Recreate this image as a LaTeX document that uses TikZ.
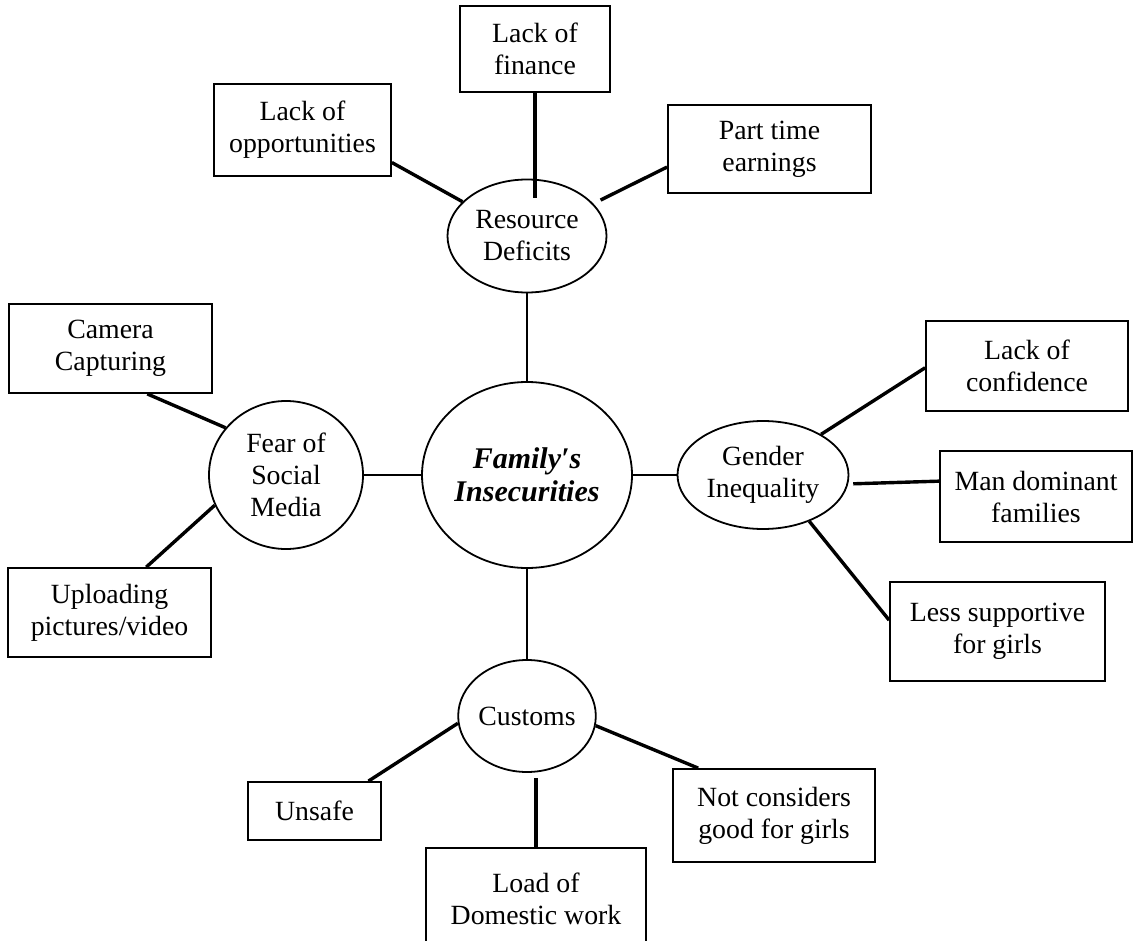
\documentclass[tikz,border=0pt]{standalone}
\usepackage{fontspec}
\setmainfont{Liberation Serif}
\usetikzlibrary{shapes.geometric}

\begin{document}
\begin{tikzpicture}[x=1pt,y=-1pt,
    box/.style={draw, line width=1.8pt, rectangle, align=center, inner sep=0pt, font=\fontsize{27.8}{32}\selectfont},
    oval/.style={draw, line width=1.8pt, ellipse, align=center, inner sep=0pt, font=\fontsize{27.8}{32}\selectfont},
    link/.style={line width=3.4pt},
    hub/.style={line width=1.8pt}]
        \useasboundingbox (0,0) rectangle (1134,941);

        % centre and the four groups
        \node[oval, minimum width=210pt, minimum height=186pt, font=\fontsize{30}{33}\selectfont\bfseries\itshape] (fam) at (527,475) {Family′s\\Insecurities};
        \node[oval, minimum width=159pt, minimum height=113pt] (res) at (527,236) {Resource\\Deficits};
        \node[oval, minimum width=154pt, minimum height=148pt] (fear) at (286,475) {Fear of\\Social\\Media};
        \node[oval, minimum width=171pt, minimum height=108pt] (gen) at (763,475) {Gender\\Inequality};
        \node[oval, minimum width=137pt, minimum height=112pt] (cus) at (527,716) {Customs};

        % boxes
        \node[box, minimum width=177pt, minimum height=92pt] (opp) at (302.5,130) {Lack of\\opportunities};
        \node[box, minimum width=150pt, minimum height=86pt] (fin) at (535,49) {Lack of\\finance};
        \node[box, minimum width=203pt, minimum height=88pt] (part) at (769.5,149) {Part time\\earnings};
        \node[box, minimum width=203pt, minimum height=89pt] (cam) at (110.5,348.5) {Camera\\Capturing};
        \node[box, minimum width=203pt, minimum height=89pt] (upl) at (109.5,612.5) {Uploading\\pictures/video};
        \node[box, minimum width=202pt, minimum height=90pt] (conf) at (1027,366) {Lack of\\confidence};
        \node[box, minimum width=192pt, minimum height=91pt] (man) at (1036,496.5) {Man dominant\\families};
        \node[box, minimum width=215pt, minimum height=99pt] (less) at (997.5,631.5) {Less supportive\\for girls};
        \node[box, minimum width=133pt, minimum height=58pt] (unsafe) at (314.5,811) {Unsafe};
        \node[box, minimum width=220pt, minimum height=102pt] (load) at (536,899) {Load of\\Domestic work};
        \node[box, minimum width=202pt, minimum height=93pt] (notc) at (774,815.5) {Not considers\\good for girls};

        % centre links
        \draw[hub] (res.south) -- (fam.north);
        \draw[hub] (fear.east) -- (fam.west);
        \draw[hub] (fam.east) -- (gen.west);
        \draw[hub] (fam.south) -- (cus.north);

        % box links
        \draw[link] (opp.-20) -- (res.152);
        \draw[link, shorten >=-19pt] (fin.south) -- (fin.south |- res.north);
        \draw[link, shorten >=8pt] (part.190) -- (res.26);
        \draw[link] (cam.-51) -- (fear.142);
        \draw[link] (upl.51) -- (fear.203);
        \draw[link] (conf.181) -- (gen.35);
        \draw[link, shorten >=5pt] (man.171) -- (gen.-6);
        \draw[link] (less.174) -- (gen.-45);
        \draw[link] (unsafe.29) -- (cus.186);
        \draw[link, shorten >=5pt] (load.north) -- (load.north |- cus.south);
        \draw[link] (notc.148) -- (cus.-8);
\end{tikzpicture}
\end{document}
